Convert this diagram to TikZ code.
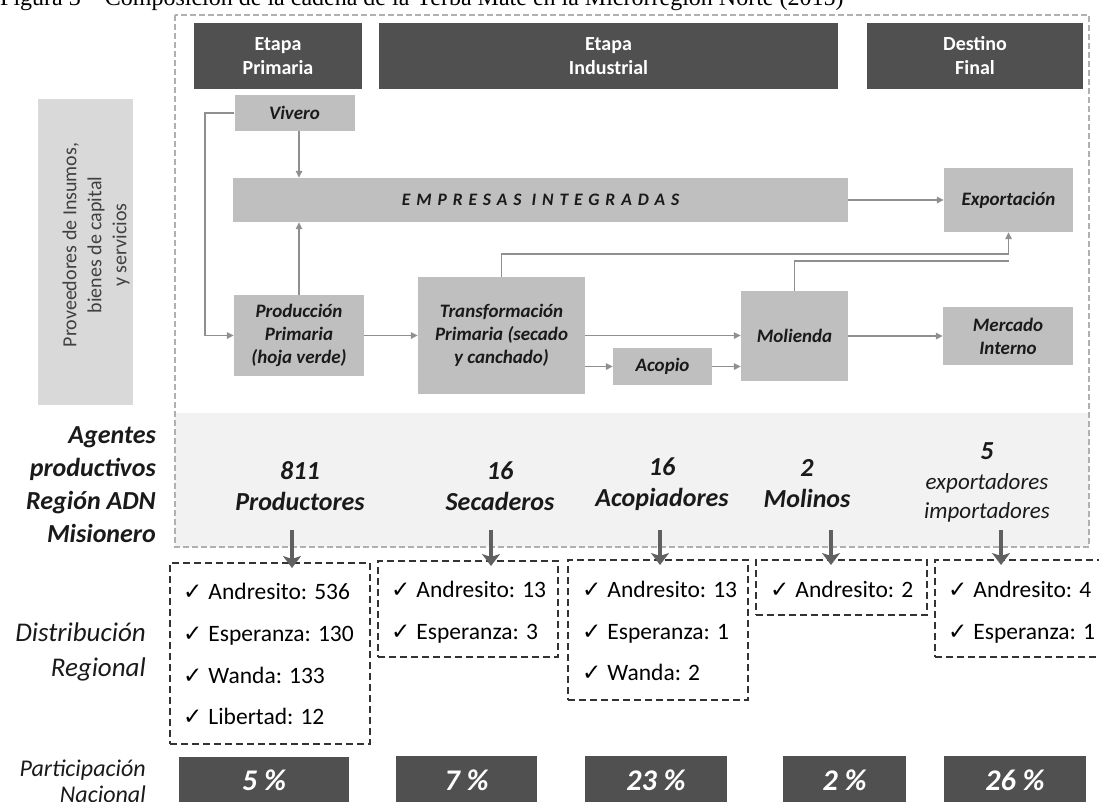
\documentclass[tikz,border=0pt]{standalone}
\usepackage{fontspec}
\setmainfont{Carlito}
\newfontfamily\checkfont{DejaVu Sans}
\newfontfamily\capfont{Liberation Serif}
\usetikzlibrary{arrows.meta,calc}

\definecolor{hdr}{HTML}{505050}
\definecolor{boxg}{HTML}{BFBFBF}
\definecolor{lineg}{HTML}{8F8F8F}
\definecolor{leftg}{HTML}{D9D9D9}
\definecolor{leftt}{HTML}{404040}
\definecolor{bandg}{HTML}{F2F2F2}
\definecolor{frameg}{HTML}{B0B0B0}
\definecolor{txt}{HTML}{1A1A1A}
\definecolor{dashg}{HTML}{333333}
\definecolor{bigar}{HTML}{606060}

\newcommand\fs[2]{\fontsize{#1}{#2}\selectfont}
\newcommand\chk{{\checkfont\fs{23}{23}✓}\hspace{6pt}}

\begin{document}
\begin{tikzpicture}[x=1pt,y=-1pt,
  hdrbox/.style={fill=hdr, text=white, inner sep=0, minimum height=66, align=center, font=\bfseries\fs{20}{24}},
  flowbox/.style={fill=boxg, text=txt, inner sep=0, align=center, font=\bfseries\itshape\fs{19}{23}},
  flow/.style={draw=lineg, line width=1.5pt, -{Triangle[length=7pt,width=6.5pt]}},
  flowline/.style={draw=lineg, line width=1.5pt},
  agent/.style={text=txt, inner sep=0, align=center, font=\bfseries\itshape\fs{26}{31}},
  bigarrow/.style={draw=bigar, line width=3.5pt, -{Stealth[length=12pt,width=18pt,inset=3pt]}},
  distbox/.style={draw=dashg, line width=2.2pt, dash pattern=on 7pt off 4pt, inner sep=0, anchor=north west},
  ditem/.style={anchor=base west, inner sep=0, text=black, font=\fs{23.5}{28}},
  pctbox/.style={fill=hdr, inner sep=0, anchor=north west},
  pcttext/.style={text=white, inner sep=0, font=\bfseries\itshape\fs{30}{30}},
  sidelabel/.style={text=txt, inner sep=0, anchor=east, align=right}
]
\useasboundingbox (0,0) rectangle (1099,801);

% caption (cut at the top)
\node[anchor=base west, inner sep=0, font=\capfont\fs{24}{24}] (cap) at (0,5) {Figura 3 – Composición de la cadena de la Yerba Mate en la Microrregión Norte (2015)};

% frame and band
\fill[bandg] (175,413) rectangle (1089,547);
\draw[frameg, line width=1.2pt, dash pattern=on 6pt off 3pt] (175,15) rectangle (1089,547);

% headers
\node[hdrbox, minimum width=168] (h1) at (278,56) {Etapa\\Primaria};
\node[hdrbox, minimum width=459] (h2) at (608.5,56) {Etapa\\Industrial};
\node[hdrbox, minimum width=216] (h3) at (975,56) {Destino\\Final};

% left box
\node[fill=leftg, minimum width=95, minimum height=306, inner sep=0] (prov) at (85.5,252) {};
\node[rotate=90, text=leftt, align=center, font=\fs{20}{25}, inner sep=0] (provt) at (96,245) {Proveedores de Insumos,\\bienes de capital\\y servicios};

% flow boxes
\node[flowbox, minimum width=120, minimum height=36] (viv) at (294.5,113) {Vivero};
\node[flowbox, minimum width=615, minimum height=44, font=\bfseries\itshape\fs{17.5}{20}\addfontfeatures{LetterSpace=34}] (emp) at (540.5,200) {EMPRESAS INTEGRADAS};
\node[flowbox, minimum width=130, minimum height=81] (prod) at (299,335.5) {Producción\\Primaria\\(hoja verde)};
\node[flowbox, minimum width=167, minimum height=117] (trans) at (501.5,335.5) {Transformación\\Primaria (secado\\y canchado)};
\node[flowbox, minimum width=99, minimum height=37] (acop) at (662.5,366.5) {Acopio};
\node[flowbox, minimum width=107, minimum height=90] (mol) at (794.5,336) {Molienda};
\node[flowbox, minimum width=130, minimum height=58] (merc) at (1008,336) {Mercado\\Interno};
\node[flowbox, minimum width=129, minimum height=64] (expo) at (1008.5,200) {Exportación};

% flow connectors
\coordinate (lp) at (205,335.5);
\draw[flow] (prod.north |- viv.south) -- (prod.north |- emp.north);
\draw[flow] (prod.north) -- (prod.north |- emp.south);
\draw[flow] (viv.west) -| (lp) -- (prod.west);
\draw[flow] (prod.east) -- (trans.west);
\draw[flow] (trans.east) -- (mol.west |- trans.east);
\draw[flow] (trans.east |- acop.west) -- (acop.west);
\draw[flow] (acop.east) -- (mol.west |- acop.east);
\draw[flow] (mol.east) -- (merc.west |- mol.east);
\draw[flow] (emp.east) -- (expo.west);
\draw[flow] (trans.north) |- ([yshift=-22pt]expo.south) -- (expo.south);
\draw[flowline] (mol.north) |- ([yshift=-29pt]expo.south);

% agents
\node[sidelabel, font=\bfseries\itshape\fs{26}{33}] (agl) at (156,485) {Agentes\\productivos\\Región ADN\\Misionero};
\node[agent] (a1) at (300,486) {811\\Productores};
\node[agent] (a2) at (500,486) {16\\Secaderos};
\node[agent] (a3) at (662,484) {16\\Acopiadores};
\node[agent] (a4) at (807,484) {2\\Molinos};
\node[agent, font=\itshape\fs{23}{29.5}] (a5) at (987,482.5) {{\bfseries\fs{26}{29.5}5}\\exportadores\\importadores};

% distribution boxes
\node[distbox, minimum width=200, minimum height=181] (d1) at (169,562) {};
\node[distbox, minimum width=180, minimum height=96] (d2) at (377,560) {};
\node[distbox, minimum width=180, minimum height=140] (d3) at (567,559) {};
\node[distbox, minimum width=171, minimum height=55] (d4) at (755,559) {};
\node[distbox, minimum width=190, minimum height=97] (d5) at (934,559) {};

% big arrows
\coordinate (s1) at (292,530);
\coordinate (s2) at (491,530);
\coordinate (s3) at (660,530);
\coordinate (s4) at (831,530);
\coordinate (s5) at (1001,530);
\draw[bigarrow, shorten >=-6pt] (s1) -- (s1 |- d1.north);
\draw[bigarrow, shorten >=-6pt] (s2) -- (s2 |- d2.north);
\draw[bigarrow, shorten >=-6pt] (s3) -- (s3 |- d3.north);
\draw[bigarrow, shorten >=-6pt] (s4) -- (s4 |- d4.north);
\draw[bigarrow, shorten >=-6pt] (s5) -- (s5 |- d5.north);

% items
\node[ditem] (d1a) at (183,599) {\chk Andresito: 536};
\node[ditem] (d1b) at (183,641) {\chk Esperanza: 130};
\node[ditem] (d1c) at (183,683) {\chk Wanda: 133};
\node[ditem] (d1d) at (183,724) {\chk Libertad: 12};
\node[ditem] (d2a) at (391,597) {\chk Andresito: 13};
\node[ditem] (d2b) at (391,639) {\chk Esperanza: 3};
\node[ditem] (d3a) at (582,597) {\chk Andresito: 13};
\node[ditem] (d3b) at (582,639) {\chk Esperanza: 1};
\node[ditem] (d3c) at (582,680) {\chk Wanda: 2};
\node[ditem] (d4a) at (770,597) {\chk Andresito: 2};
\node[ditem] (d5a) at (948,597) {\chk Andresito: 4};
\node[ditem] (d5b) at (948,639) {\chk Esperanza: 1};

\node[sidelabel, font=\itshape\fs{27}{35}] (dist) at (146,652) {Distribución\\Regional};

% percentages
\node[pctbox, minimum width=170, minimum height=60] (p1) at (179,757) {};
\node[pctbox, minimum width=141, minimum height=60] (p2) at (396,756) {};
\node[pctbox, minimum width=142, minimum height=60] (p3) at (585,756) {};
\node[pctbox, minimum width=123, minimum height=60] (p4) at (783,756) {};
\node[pctbox, minimum width=142, minimum height=60] (p5) at (944,756) {};
\node[pcttext] (p1t) at (264,780) {5 \%};
\node[pcttext] (p2t) at (466.5,780) {7 \%};
\node[pcttext] (p3t) at (656,780) {23 \%};
\node[pcttext] (p4t) at (844.5,780) {2 \%};
\node[pcttext] (p5t) at (1015,780) {26 \%};

\node[sidelabel, font=\itshape\fs{24}{26}] (part) at (146,781) {Participación\\Nacional};
\end{tikzpicture}
\end{document}
